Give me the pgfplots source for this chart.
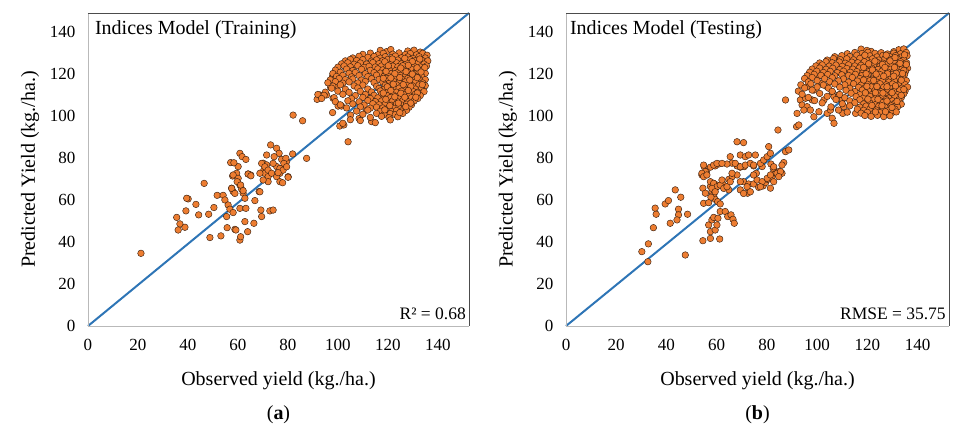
\documentclass[border=0pt]{standalone}
\usepackage{fontspec}
\setmainfont{Liberation Serif}
\usepackage{pgfplots}
\pgfplotsset{compat=1.18}

\definecolor{dotfill}{HTML}{ED7D31}
\definecolor{dotedge}{HTML}{3A2010}
\definecolor{diag}{HTML}{2E75B6}

\pgfplotsset{
  panel/.style={
    scale only axis, height=313pt,
    xmin=0, xmax=152.5, ymin=0, ymax=149,
    xtick={0,20,...,140}, ytick={0,20,...,140},
    axis line style={draw=none},
    major tick length=0pt,
    tick label style={font=\fontsize{17}{19}\selectfont},
    /pgf/number format/assume math mode=true,
    xticklabel style={yshift=-10pt},
    yticklabel style={xshift=-9pt},
    label style={font=\fontsize{20}{22}\selectfont},
    xlabel={Observed yield (kg./ha.)},
    ylabel={Predicted Yield (kg./ha.)},
    x label style={at={(axis description cs:0.5,-0.176)}, anchor=center},
    y label style={at={(axis description cs:-0.152,0.5)}, anchor=center},
    clip=false,
  },
  dots/.style={only marks, mark=*, mark size=3.3pt,
    mark options={fill=dotfill, draw=dotedge, line width=0.45pt}},
}

\begin{document}
\begin{tikzpicture}
\useasboundingbox (-88pt,-104pt) rectangle (866pt,326pt);

% (a) training
\begin{axis}[panel, width=381pt, at={(0pt,0pt)}, anchor=south west]
\addplot[diag, line width=2pt] coordinates {(0,0) (152.5,149)};
% lower and middle group
\addplot[dots] coordinates {
(21.2,34.6) (35.5,51.7) (36.8,48.6) (36.1,45.7) (38.8,47.0) (40.1,60.5) (39.2,54.8) (43.2,57.9)
(44.3,52.9) (46.5,67.9) (48.3,53.2) (48.8,42.1) (50.4,56.4) (51.7,62.2) (53.2,42.9) (54.1,62.2)
(54.8,60.0) (55.5,52.1) (55.7,46.8) (56.1,57.6) (56.8,55.6) (57.5,65.6) (58.1,64.0) (57.9,71.4)
(57.1,77.8) (58.1,54.0) (58.8,46.0) (59.2,45.7) (60.1,75.9) (59.5,72.7) (60.1,70.3) (60.8,67.1)
(61.5,65.1) (62.1,63.2) (62.8,60.8) (60.8,56.0) (60.8,40.9) (61.1,42.5) (62.8,49.7) (63.2,56.0)
(63.9,44.9) (64.1,72.4) (65.1,71.9) (66.4,48.9) (66.8,59.7) (68.5,64.0) (69.2,55.2) (69.5,52.1)
(70.1,77.5) (70.4,74.3) (70.8,72.7) (72.1,71.1) (72.8,54.8) (74.1,55.2) (71.5,76.7) (75.5,75.9)
(76.8,72.7) (77.5,75.1) (79.5,78.3) (80.1,71.1) (87.5,79.8)
(73.1,86.2) (75.5,84.6) (76.5,82.2) (74.5,80.6) (77.5,79.3) (79.2,79.8) (81.9,81.9) (78.4,77.4)
(76.8,75.0) (78.1,74.2) (79.5,75.8) (71.5,81.4) (69.5,77.4) (70.8,75.8) (72.1,74.2) (73.5,72.7)
(75.5,71.1) (76.8,68.7) (72.1,68.7) (70.1,69.5) (68.8,72.7) (74.1,77.4) (76.1,73.0) (80.1,70.8)
(77.9,68.2) (60.8,82.2) (61.7,80.6) (63.2,79.3) (58.4,77.7) (64.1,72.3) (65.2,71.5) (58.1,71.9)
(59.7,68.7) (61.1,67.1) (62.1,64.4) (57.5,65.5) (58.8,63.1) (68.8,63.9) (39.5,60.8)
};
% sparse points below the main group
\addplot[dots] coordinates {
(82.1,100.4) (85.9,97.7) (104.1,87.7) (100.8,95.2) (102.4,95.7) (105.1,100.4) (108.5,98.8)
(113.5,97.3) (111.5,102.8) (97.9,101.6) (91.7,107.9) (92.8,110.0) (95.5,110.0) (98.1,108.4)
(100.1,104.7) (101.5,104.7) (97.1,113.6) (99.5,114.2) (97.9,119.0)
};
% main group
\addplot[dots] coordinates {
(117,131.2) (119.5,130.6) (121.2,131.6) (128,130.9) (130.5,131.3) (133,130.4)
(110,129.3) (113,129.9) (116,129.1) (118.2,129.8) (122,129.4) (124.5,130) (127,129.2) (129,129.7) (131.5,129.1) (134,129.8) (135.7,128.9)
(106,127.6) (108.5,128.4) (112,127.9) (114.5,128.3) (117,127.5) (119,128.2) (121.5,127.8) (123,128.5) (125.5,127.7) (128,128.1) (130,127.4) (132.5,128.2) (135,127.6)
(103,126.2) (105,126.9) (107.5,126.4) (110,126.8) (113.5,126.1) (115.5,126.7) (118,126.3) (120,126.9) (122.5,126.2) (124,126.6) (126.5,126.1) (129,126.8) (131,126.3) (133.5,126.7) (136,126.2)
(101.5,124.8) (104,125.3) (106.5,124.6) (109,125.2) (111.5,124.7) (114,125.4) (116.5,124.9) (119,125.1) (121,124.5) (123.5,125.3) (125.5,124.8) (127.5,125.2) (130,124.6) (132,125.1) (134.5,124.7)
(100,123.2) (102.5,123.8) (105,123.4) (108,123.9) (110.5,123.1) (112.5,123.6) (115,123.3) (117.5,123.8) (119.5,123.2) (122,123.7) (124,123.4) (126,123.9) (128.5,123.1) (130.5,123.6) (133,123.3) (135.5,123.8)
(99,121.8) (103.5,122.3) (106,121.6) (109.5,122.2) (113,121.7) (116,122.4) (118,121.9) (120.5,122.1) (123,121.5) (125,122.3) (127,121.8) (129.5,122.2) (131.5,121.6) (134,122.1)
(98,120.2) (101,120.8) (104.5,120.3) (107,120.7) (111,120.1) (114.5,120.6) (117,120.4) (119,120.9) (121.5,120.2) (124,120.7) (126,120.3) (128,120.8) (130.5,120.2) (132.5,120.6) (135,120.3)
(99.5,118.8) (102,119.3) (105.5,118.6) (108.5,119.2) (112,118.7) (115.5,119.4) (118.5,118.9) (120,119.1) (122.5,118.5) (125,119.3) (127,118.8) (129,119.2) (131.5,118.6) (133.5,119.1)
(97,117.2) (100.5,117.8) (103,117.3) (106,117.6) (109.5,117.1) (113.5,117.7) (116.5,117.4) (119.5,117.9) (121.5,117.2) (123.5,117.6) (126,117.3) (128,117.8) (130,117.1) (132.5,117.6) (135,117.3)
(96,115.8) (99,116.3) (102,115.6) (104.5,116.2) (108,115.7) (111,116.4) (114.5,115.9) (118,116.1) (120.5,115.5) (122.5,116.3) (124.5,115.8) (127,116.2) (129.5,115.6) (131,116.1) (134,115.7)
(98,114.2) (101,114.8) (106.5,114.3) (110,114.7) (115.5,114.1) (119,114.6) (121,114.3) (123.5,114.8) (125.5,114.2) (128,114.7) (130,114.3) (132.5,114.8) (135,114.4)
(97.5,113.2) (103,112.7) (108,113.3) (112,112.8) (116.5,113.1) (118.5,112.6) (120.5,113.4) (122.5,112.9) (124.5,113.2) (126.5,112.7) (129,113.3) (131,112.8) (133.5,113.1)
(95,111.3) (100,111.8) (104.5,111.2) (109,111.7) (113.5,111.4) (117,111.9) (119.5,111.2) (121.5,111.6) (123.5,111.3) (125.5,111.8) (127.5,111.2) (130,111.7) (132,111.3) (134.5,111.6)
(92,110.2) (94.5,109.8) (102,110.3) (107,109.7) (111,110.2) (114.5,109.8) (117.5,110.3) (120,109.7) (122,110.1) (124.5,109.6) (126.5,110.2) (128.5,109.8) (131,110.3) (133,109.7)
(93.5,108.3) (98.5,108.7) (105.5,108.2) (110,108.8) (113,108.3) (116,108.6) (118.5,108.1) (121,108.7) (123,108.2) (125,108.6) (127,108.1) (129.5,108.7) (132,108.3)
(99,106.8) (104,107.2) (108.5,106.7) (112,107.3) (115,106.8) (117.5,107.1) (120,106.6) (122,107.2) (124,106.7) (126,107.3) (128,106.8) (130.5,107.1)
(101,105.3) (106,105.7) (110.5,105.2) (114,105.8) (116.5,105.3) (119,105.6) (121.5,105.1) (123.5,105.7) (125.5,105.2) (127.5,105.6) (129.5,105.3)
(103.5,103.8) (109,104.3) (113,103.7) (115.5,104.2) (118,103.8) (120.5,104.1) (122.5,103.6) (124.5,104.2) (126.5,103.7) (128.5,104.1)
(107.5,102.3) (112,102.8) (117,102.2) (119.5,102.7) (121.5,102.1) (123.5,102.6) (125.5,102.3) (127.5,102.7)
(110,100.8) (115.5,101.2) (118.5,100.7) (121,101.1) (123,100.6) (126,101.2)
(113,99.3) (117.5,99.8) (120.5,99.2) (124,99.6) (105,98.2) (109,97.8) (121,98.1) (102,96.5) (115,96.8)
(118.8,125.8) (121.8,127.1) (126.8,127.4) (129.8,125.9) (132.8,127.1) (120.2,123.9) (125.2,122.8) (128.2,124.1)
(131.7,122.9) (134.8,123.0) (119.3,121.2) (122.8,120.1) (127.3,121.1) (129.8,119.9) (133.3,120.9) (118.2,117.9)
(121.2,118.1) (124.8,118.3) (128.8,117.1) (131.8,118.2) (119.8,113.9) (122.2,115.1) (126.2,114.9) (129.2,114.1)
(133.8,114.9) (118.2,110.9) (121.2,112.1) (125.2,110.8) (128.2,112.1) (131.8,110.9) (119.2,107.9) (122.8,109.1)
(126.8,108.9) (129.2,106.1) (131.2,108.9) (120.8,104.9) (124.2,106.1) (127.2,104.4) (118.8,102.9) (124.8,101.6)
};
\draw[gray!55, line width=0.8pt] (rel axis cs:0,1) -- (rel axis cs:0,0) -- (rel axis cs:1,0);
\draw[black!70, line width=0.8pt] (rel axis cs:0,1) -- (rel axis cs:1,1) -- (rel axis cs:1,0);
\node[anchor=north west, inner sep=0pt, font=\fontsize{20}{22}\selectfont]
  at (axis description cs:0.018,0.975) {Indices Model (Training)};
\node[anchor=south east, inner sep=0pt, font=\fontsize{17.5}{19}\selectfont]
  at (axis description cs:0.992,0.018) {R² = 0.68};
\node[font=\fontsize{20}{22}\selectfont] at (axis description cs:0.5,-0.284) {(\textbf{a})};
\end{axis}

% (b) testing
\begin{axis}[panel, width=383pt, at={(478pt,0pt)}, anchor=south west]
\addplot[diag, line width=2pt] coordinates {(0,0) (152.5,149)};
% lower group
\addplot[dots] coordinates {
(30.2,35.4) (32.6,30.6) (32.8,39.1) (34.8,46.8) (35.5,56.1) (35.9,53.2) (39.5,58.1) (40.8,59.7)
(41.5,48.9) (43.5,64.8) (44.8,55.6) (44.8,52.9) (44.2,50.5) (45.7,61.3) (47.5,33.8) (48.4,53.2)
(54.5,40.6) (54.8,58.4) (54.5,65.6) (55.5,63.2) (54.8,72.7) (57.5,41.7) (57.5,44.9) (56.8,48.1)
(58.1,50.5) (58.8,51.7) (59.4,45.7) (60.1,48.1) (61.2,41.4) (60.5,51.3) (61.4,54.5) (57.5,66.4)
(58.1,64.0) (58.8,67.9) (59.4,65.1) (60.1,67.1) (58.8,62.4) (59.4,60.3) (60.4,59.2) (61.4,58.1)
(57.7,61.3) (56.8,58.7) (62.5,67.6) (63.6,66.0) (64.8,64.8) (63.4,54.5) (64.4,52.1) (65.7,52.9)
(66.5,50.8) (67.0,48.9) (64.8,69.8) (66.2,71.1) (68.1,71.9) (69.4,64.8) (70.7,68.7) (72.3,63.2)
(72.7,67.6) (74.7,67.6) (75.8,72.7) (76.7,66.0) (78.5,66.7) (79.5,68.3) (80.3,69.8) (81.4,65.6)
(82.0,70.8) (82.7,73.0) (84.7,73.5) (86.0,72.7) (86.7,77.8) (81.6,77.1) (82.5,75.1) (78.1,75.9)
(74.7,76.2) (71.0,75.9) (69.4,75.6) (68.1,76.2) (66.1,77.5) (64.1,77.1) (60.8,77.1) (59.4,76.2)
(57.5,75.6) (55.9,73.5) (54.1,71.9) (55.0,75.9)
};
% middle group
\addplot[dots] coordinates {
(54.8,76.6) (55.5,73.5) (54.1,72.7) (54.8,71.1) (56.1,71.9) (58.8,76.6) (60.1,77.4) (62.1,77.4)
(65.4,80.6) (57.5,68.7) (58.8,67.9) (60.1,66.3) (61.4,67.1) (58.1,65.5) (59.4,63.9) (62.8,65.5)
(64.1,66.3) (65.4,68.7) (62.1,69.5) (68.1,87.7) (70.7,87.3) (69.4,81.4) (71.4,80.6) (72.7,81.4)
(75.4,81.4) (67.4,77.4) (69.4,75.8) (71.4,76.6) (73.4,77.4) (74.7,76.6) (77.4,77.4) (78.7,79.0)
(80.1,80.6) (81.4,82.2) (80.7,85.4) (82.7,75.8) (84.0,72.7) (85.4,73.5) (86.0,76.6) (87.4,83.0)
(88.7,83.8) (74.7,71.9) (76.1,69.5) (78.1,68.7) (80.1,70.3) (81.4,71.9) (82.7,68.7) (84.7,71.1)
(66.1,72.7) (69.4,68.7) (72.1,66.3) (77.4,66.3) (70.7,63.1) (73.4,63.9)
};
% sparse points below the main group
\addplot[dots] coordinates {
(84.4,93.3) (87.4,107.6) (92.0,101.2) (91.8,94.9) (92.7,95.7) (93.3,107.6) (94.0,105.2) (96.0,104.4)
(95.4,108.4) (94.7,102.8) (98.0,107.6) (97.3,102.8) (98.7,99.6) (100.7,102.0) (102.7,107.6) (104.0,101.2)
(106.0,98.9) (106.7,96.5) (110.2,101.2) (115.3,101.2) (105.3,102.8) (96.7,119.5) (98.7,112.3)
(100.0,117.9) (102.0,115.5) (104.0,113.9) (106.0,111.5) (106.7,109.2) (108.6,110.0) (110.0,107.6)
(110.6,104.4) (96.0,113.9)
};
% main group
\addplot[dots] coordinates {
(117.5,131.8) (119.8,131.2) (121.5,130.7) (132.5,131.5) (134.5,131.9) (130.5,130.6)
(112,129.6) (115,130.2) (117.8,129.7) (120.2,130.3) (123,129.8) (125.5,130.1) (128,129.5) (130.5,129.9) (133.2,129.6) (135.5,130.2)
(107,128.2) (109.8,128.7) (113,128.3) (115.8,128.9) (118.5,128.2) (121,128.6) (123.8,128.1) (126.2,128.8) (128.8,128.3) (131.2,128.7) (133.8,128.2) (135.8,128.6)
(104,126.6) (106.5,127.3) (109.2,126.8) (111.8,127.2) (114.5,126.7) (117,127.4) (119.5,126.9) (122,127.2) (124.5,126.6) (127,127.3) (129.5,126.8) (132,127.1) (134.5,126.7)
(101,125.2) (103.5,125.8) (106,125.3) (108.8,125.7) (111.2,125.1) (113.8,125.6) (116.2,125.3) (118.8,125.8) (121.2,125.2) (123.8,125.6) (126.2,125.1) (128.5,125.7) (130.8,125.2) (133.2,125.8) (135.6,125.3)
(99.5,123.8) (102,124.3) (104.8,123.7) (107.5,124.2) (110,123.6) (112.5,124.3) (115,123.8) (117.5,124.1) (120,123.5) (122.5,124.2) (125,123.7) (127.5,124.3) (129.8,123.8) (132.2,124.1) (134.6,123.6)
(98,122.3) (101,122.8) (103.5,122.2) (106.2,122.7) (109,122.1) (111.8,122.6) (114.2,122.3) (116.8,122.8) (119.2,122.2) (121.8,122.7) (124.2,122.1) (126.8,122.6) (129.2,122.2) (131.5,122.8) (133.8,122.3) (136,122.7)
(97,120.8) (99.8,121.3) (102.5,120.7) (105.2,121.2) (108,120.6) (110.5,121.3) (113.2,120.8) (115.8,121.1) (118.2,120.5) (120.8,121.2) (123.2,120.7) (125.8,121.3) (128.2,120.8) (130.5,121.1) (133,120.6) (135.2,121.2)
(96,119.2) (98.8,119.8) (101.5,119.3) (104.2,119.7) (107,119.1) (109.8,119.6) (112.5,119.3) (115.2,119.8) (117.8,119.2) (120.2,119.7) (122.8,119.1) (125.2,119.6) (127.8,119.3) (130.2,119.8) (132.5,119.2) (134.8,119.7)
(95,117.8) (98,118.3) (103,117.7) (106,118.2) (110.5,117.6) (114,118.3) (117,117.8) (119.5,118.1) (122,117.5) (124.5,118.2) (127,117.7) (129.5,118.3) (131.8,117.8) (134.2,118.1)
(96.5,116.2) (100,116.8) (105,116.3) (108.5,116.7) (112.5,116.1) (116,116.6) (118.5,116.3) (121,116.8) (123.5,116.2) (126,116.7) (128.5,116.1) (130.8,116.6) (133.2,116.2) (135.5,116.8)
(93.5,114.8) (97.5,115.3) (102.5,114.7) (107,115.2) (111,114.8) (114.5,115.3) (117.5,114.7) (120,115.1) (122.5,114.6) (125,115.3) (127.5,114.8) (130,115.2) (132.5,114.7) (134.8,115.1)
(95,113.3) (100,113.8) (104.5,113.2) (109,113.7) (113,113.1) (116.5,113.6) (119,113.3) (121.5,113.8) (124,113.2) (126.5,113.7) (129,113.1) (131.5,113.6) (133.8,113.2) (136,113.7)
(92.5,111.8) (98,112.3) (106,111.7) (111.5,112.2) (115,111.6) (118,112.3) (120.5,111.8) (123,112.1) (125.5,111.5) (128,112.2) (130.5,111.7) (132.8,112.3) (135,111.8)
(94,110.3) (101,110.7) (109,110.2) (113.5,110.8) (117,110.1) (119.5,110.6) (122,110.3) (124.5,110.8) (127,110.2) (129.5,110.7) (132,110.1) (134.5,110.6)
(96.5,108.8) (104,109.3) (111,108.7) (115.5,109.2) (118.5,108.6) (121,109.3) (123.5,108.8) (126,109.1) (128.5,108.5) (131,109.2) (133.5,108.7)
(99,107.3) (107.5,107.8) (113,107.2) (117,107.7) (120,107.1) (122.5,107.6) (125,107.3) (127.5,107.8) (130,107.2) (132.5,107.7)
(102,106.2) (110,105.8) (115,106.3) (118.5,105.7) (121,106.2) (123.5,105.6) (126,106.3) (128.5,105.8) (131,106.1) (133.5,105.6)
(105.5,104.3) (113,104.8) (117,104.2) (119.5,104.7) (122,104.1) (124.5,104.6) (127,104.2) (129.5,104.8) (132,104.3)
(108.5,102.8) (116,103.2) (118.5,102.7) (121,103.3) (123.5,102.8) (126,103.1) (128.5,102.6) (131,103.2)
(112,101.8) (117.5,101.3) (120,101.7) (122.5,101.2) (125,101.6) (127.5,101.1) (130,101.7)
(119,100.2) (121.5,99.8) (124,100.3) (126.5,99.7) (129,100.1)
(119,128.9) (123,126.1) (127.5,128.9) (131,127.8) (134.8,129.1) (120.5,124.8) (126,124.5) (129,126.2)
(133,125.0) (135.5,124.5) (118.5,123.1) (122,121.9) (127,123.1) (130.8,123.1) (134.5,121.7) (119.5,120.1)
(123.5,119.9) (128,120.1) (131.5,120.3) (134,120.2) (118.5,117.1) (122.5,116.9) (126.5,118.9) (130.5,118.9)
(133.5,117.0) (119.8,114.1) (123.8,114.0) (127.8,113.9) (131.2,114.3) (134.5,112.6) (119.2,111.0) (123.2,111.1)
(126.2,110.9) (129.8,111.1) (133.5,109.8) (120.2,108.0) (124.2,107.9) (127.8,107.1) (131.8,106.9) (121.8,105.0)
(125.8,104.9) (129.8,104.0) (123.2,101.9) (127.2,102.0) (131.5,101.9)
};
\draw[gray!55, line width=0.8pt] (rel axis cs:0,1) -- (rel axis cs:0,0) -- (rel axis cs:1,0);
\draw[black!70, line width=0.8pt] (rel axis cs:0,1) -- (rel axis cs:1,1) -- (rel axis cs:1,0);
\node[anchor=north west, inner sep=0pt, font=\fontsize{20}{22}\selectfont]
  at (axis description cs:0.01,0.975) {Indices Model (Testing)};
\node[anchor=south east, inner sep=0pt, font=\fontsize{17.5}{19}\selectfont]
  at (axis description cs:0.992,0.018) {RMSE = 35.75};
\node[font=\fontsize{20}{22}\selectfont] at (axis description cs:0.5,-0.284) {(\textbf{b})};
\end{axis}
\end{tikzpicture}
\end{document}
